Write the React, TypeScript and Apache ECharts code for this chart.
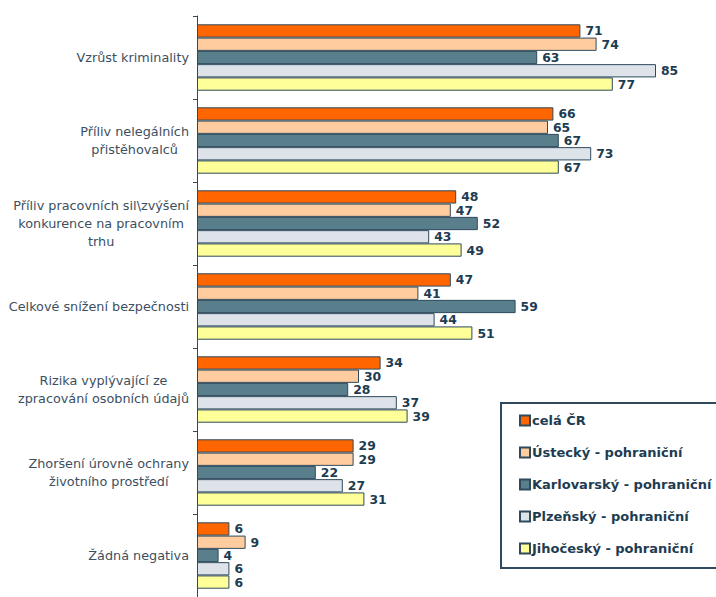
import React, { useEffect, useRef } from "react";
import * as echarts from "echarts";

const categories = [
  "Vzrůst kriminality",
  "Příliv nelegálních\npřistěhovalců",
  "Příliv pracovních sil\\zvýšení\nkonkurence na pracovním\ntrhu",
  "Celkové snížení bezpečnosti",
  "Rizika vyplývající ze\nzpracování osobních údajů",
  "Zhoršení úrovně ochrany\nživotního prostředí",
  "Žádná negativa",
];

const seriesNames = [
  "celá ČR",
  "Ústecký - pohraniční",
  "Karlovarský - pohraniční",
  "Plzeňský - pohraniční",
  "Jihočeský - pohraniční",
];

const celaCR = [71, 66, 48, 47, 34, 29, 6];
const ustecky = [74, 65, 47, 41, 30, 29, 9];
const karlovarsky = [63, 67, 52, 59, 28, 22, 4];
const plzensky = [85, 73, 43, 44, 37, 27, 6];
const jihocesky = [77, 67, 49, 51, 39, 31, 6];

const seriesData = [celaCR, ustecky, karlovarsky, plzensky, jihocesky];
const colors = ["#ff6600", "#ffcc9f", "#5a7f8c", "#dde3e8", "#ffff99"];

const FONT = "DejaVu Sans";
const BORDER = "#2e4a5c";

export default function App() {
  const ref = useRef<HTMLDivElement>(null);
  useEffect(() => {
    if (!ref.current) return;
    const chart = echarts.init(ref.current, undefined, { renderer: "svg" });
    chart.setOption({
      animation: false,
      backgroundColor: "#ffffff",
      grid: { left: 197, top: 16, width: 486, bottom: -7, containLabel: false },
      xAxis: {
        type: "value",
        min: 0,
        max: 90,
        show: false,
      },
      yAxis: {
        type: "category",
        data: categories,
        inverse: true,
        axisLine: { show: true, lineStyle: { color: "#2e4a5c", width: 1 } },
        axisTick: { show: true, length: 4, inside: false, lineStyle: { color: "#2e4a5c" } },
        axisLabel: {
          align: "right",
          margin: 8,
          formatter: (v: string) =>
            v
              .split("\n")
              .map((l) => "{c|" + l + "}")
              .join("\n"),
          rich: {
            c: {
              align: "center",
              fontFamily: FONT,
              fontSize: 12.8,
              color: "#3d4f5f",
              lineHeight: 18,
            },
          },
        },
        splitLine: { show: false },
      },
      legend: {
        orient: "vertical",
        left: 501,
        top: 403,
        padding: [11, 10, 13, 18],
        itemWidth: 10,
        itemHeight: 10,
        itemGap: 19,
        borderColor: BORDER,
        borderWidth: 2,
        icon: "rect",
        textStyle: {
          fontFamily: FONT,
          fontSize: 13,
          fontWeight: "bold",
          color: "#1d3c52",
          padding: [0, 0, 0, -3],
        },
        data: seriesNames,
      },
      series: seriesNames.map((name, i) => ({
        name,
        type: "bar",
        data: seriesData[i],
        barGap: "0%",
        barCategoryGap: "20%",
        itemStyle: { color: colors[i], borderColor: BORDER, borderWidth: 1 },
        label: {
          show: true,
          position: "right",
          distance: 5,
          fontFamily: FONT,
          fontSize: 12.4,
          lineHeight: 12,
          fontWeight: "bold",
          color: "#1d3c52",
        },
      })),
    });
    return () => chart.dispose();
  }, []);
  return (
    <div
      ref={ref}
      style={{ position: "fixed", left: 0, top: 0, width: 716, height: 597 }}
    />
  );
}
